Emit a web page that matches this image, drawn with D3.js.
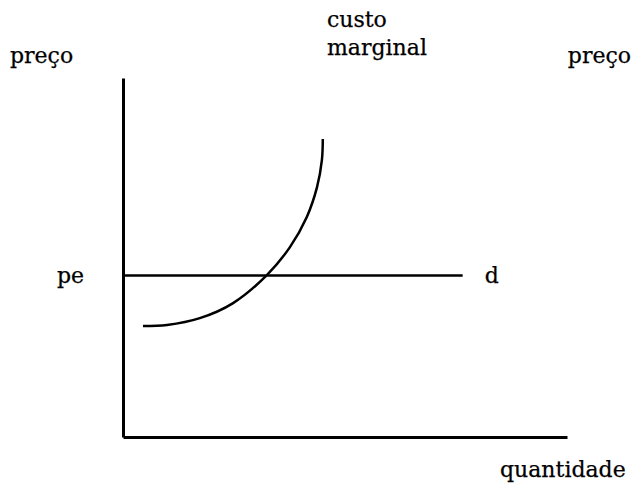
<!DOCTYPE html>
<html>
<head>
<meta charset="utf-8">
<script src="https://cdn.jsdelivr.net/npm/d3@7"></script>
<style>
  body { margin: 0; background: #fff; }
</style>
</head>
<body>
<svg width="635" height="490"></svg>
<script>
// curva de custo marginal (quantidade, preço)
var cmgX = [0.45, 0.99, 1.73, 2.48, 3.24, 3.76, 4.14, 4.37, 4.48, 4.50];
var cmgY = [3.09, 3.12, 3.31, 3.73, 4.51, 5.29, 6.13, 6.96, 7.72, 8.30];
// preço de equilíbrio e fim da reta de demanda
var pe = 4.5;
var demandaFim = 7.65;
// textos
var rotuloPreco = "preço";
var rotuloQtd = "quantidade";
var rotuloCusto = ["custo", "marginal"];
var rotuloPe = "pe";
var rotuloD = "d";

var svg = d3.select("svg"),
    margin = {top: 78, right: 68, bottom: 53, left: 123},
    width = +svg.attr("width") - margin.left - margin.right,
    height = +svg.attr("height") - margin.top - margin.bottom;

var x = d3.scaleLinear().domain([0, 10]).range([0, width]),
    y = d3.scaleLinear().domain([0, 10]).range([height, 0]);

var g = svg.append("g")
    .attr("transform", "translate(" + margin.left + "," + margin.top + ")");

// eixos sem marcas
g.append("g")
    .attr("transform", "translate(0," + height + ")")
    .call(d3.axisBottom(x).tickValues([]).tickSizeOuter(0))
    .select(".domain").attr("stroke-width", 3);

g.append("g")
    .call(d3.axisLeft(y).tickValues([]).tickSizeOuter(0))
    .select(".domain").attr("stroke-width", 3);

// reta de demanda d
g.append("line")
    .attr("x1", x(0)).attr("x2", x(demandaFim))
    .attr("y1", y(pe)).attr("y2", y(pe))
    .attr("stroke", "#000").attr("stroke-width", 2.5);

// custo marginal
var pts = cmgX.map(function(v, i) { return [v, cmgY[i]]; });
g.append("path")
    .datum(pts)
    .attr("fill", "none")
    .attr("stroke", "#000")
    .attr("stroke-width", 2.5)
    .attr("d", d3.line()
        .x(function(d) { return x(d[0]); })
        .y(function(d) { return y(d[1]); })
        .curve(d3.curveCatmullRom));

// textos
var labels = svg.append("g")
    .attr("font-family", "'DejaVu Serif', serif")
    .attr("font-size", 22)
    .attr("fill", "#000")
    .attr("stroke", "#000")
    .attr("stroke-width", 0.25);

labels.append("text").attr("x", 10).attr("y", 63).text(rotuloPreco);
labels.append("text").attr("x", 631).attr("y", 63).attr("text-anchor", "end").text(rotuloPreco);
labels.selectAll(".custo")
  .data(rotuloCusto)
  .enter().append("text")
    .attr("class", "custo")
    .attr("x", 327)
    .attr("y", function(d, i) { return 27 + i * 28; })
    .text(function(d) { return d; });
labels.append("text").attr("x", margin.left - 66).attr("y", margin.top + y(pe) + 8).text(rotuloPe);
labels.append("text").attr("x", margin.left + x(demandaFim) + 22).attr("y", margin.top + y(pe) + 8).text(rotuloD);
labels.append("text").attr("x", 500).attr("y", 477).text(rotuloQtd);
</script>
</body>
</html>
